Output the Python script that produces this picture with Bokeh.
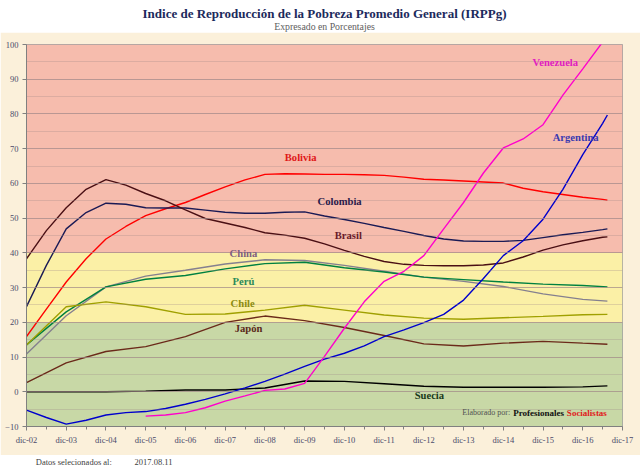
from bokeh.plotting import figure
from bokeh.layouts import column
from bokeh.models import FixedTicker, Label, Range1d
from bokeh.embed import file_html
from bokeh.resources import INLINE

# ---------------- data ----------------
tick_labels = ["dic-02", "dic-03", "dic-04", "dic-05", "dic-06", "dic-07", "dic-08", "dic-09",
               "dic-10", "dic-11", "dic-12", "dic-13", "dic-14", "dic-15", "dic-16", "dic-17"]

# yearly readings (years after dic-02; last reading = ago-17)
x_years = [0, 1, 2, 3, 4, 5, 6, 7, 8, 9, 10, 11, 12, 13, 14, 14.62]
china = [10.9, 21.9, 30.2, 33.3, 35.0, 36.8, 38.0, 37.8, 36.4, 34.7, 33.0, 31.8, 30.3, 28.2, 26.6, 26.1]
peru = [13.5, 23.0, 30.2, 32.4, 33.5, 35.4, 36.9, 37.3, 35.7, 34.5, 33.0, 32.3, 31.6, 31.0, 30.6, 30.2]
chile = [13.5, 24.5, 25.9, 24.5, 22.3, 22.4, 23.5, 24.9, 23.5, 22.1, 21.2, 20.9, 21.3, 21.7, 22.2, 22.3]
japon = [2.6, 8.3, 11.6, 13.0, 15.9, 20.0, 21.8, 20.5, 18.5, 16.2, 13.8, 13.2, 14.0, 14.5, 14.0, 13.7]
suecia = [0.0, 0.0, 0.0, 0.2, 0.5, 0.5, 1.1, 3.1, 3.0, 2.3, 1.6, 1.3, 1.3, 1.3, 1.4, 1.7]

# half-yearly readings
x_half = [0, 0.5, 1, 1.5, 2, 2.5, 3, 3.5, 4, 4.5, 5, 5.5, 6, 6.5, 7, 7.5, 8, 8.5, 9, 9.5,
          10, 10.5, 11, 11.5, 12, 12.5, 13, 13.5, 14, 14.5, 14.62]
bolivia = [15.9, 23.8, 31.6, 38.3, 44.0, 47.6, 50.7, 52.7, 54.5, 56.8, 59.0, 61.0, 62.6, 62.8, 62.7, 62.6,
           62.6, 62.5, 62.3, 61.8, 61.2, 61.0, 60.7, 60.4, 60.1, 58.6, 57.6, 56.8, 56.0, 55.4, 55.2]
colombia = [24.5, 36.4, 46.9, 51.6, 54.3, 54.0, 53.0, 52.9, 52.9, 52.3, 51.7, 51.4, 51.4, 51.7, 51.8, 50.6,
            49.6, 48.5, 47.3, 46.2, 45.0, 44.0, 43.4, 43.3, 43.3, 43.6, 44.4, 45.2, 45.9, 46.7, 46.9]
brasil = [38.3, 46.4, 53.0, 58.3, 61.1, 59.5, 57.1, 55.0, 52.4, 49.9, 48.6, 47.3, 45.8, 45.1, 44.2, 42.6,
          40.7, 39.0, 37.5, 36.7, 36.4, 36.3, 36.3, 36.5, 37.1, 38.8, 40.8, 42.3, 43.5, 44.5, 44.6]
argentina = [-5.3, -7.4, -9.3, -8.2, -6.7, -6.0, -5.7, -4.8, -3.6, -2.2, -0.6, 1.1, 3.0, 5.1, 7.3, 9.4,
             11.1, 13.2, 15.9, 17.8, 19.9, 22.3, 26.4, 32.6, 39.2, 43.5, 49.7, 58.3, 68.3, 77.3, 79.7]
venezuela_x = x_half[6:]
venezuela = [-7.0, -6.7, -6.0, -4.6, -2.7, -1.2, 0.4, 0.8, 2.4, 10.2, 18.3, 25.9, 31.8, 34.7,
             39.2, 46.9, 54.5, 63.0, 70.2, 72.8, 76.9, 85.4, 93.0, 100.7, 102.0]

band_limits = [-10, 20, 40, 100]

# ---------------- styles ----------------
SERIF = "Liberation Serif"
BEIGE = "#FBF0DA"
W = 640
series = [
    # name, xs, ys, line colour, label colour, label position
    ("Bolivia", x_half, bolivia, "#FF0000", "#E01818", (6.9, 67.4)),
    ("Colombia", x_half, colombia, "#1A1A55", "#2A1A4A", (7.88, 54.9)),
    ("Brasil", x_half, brasil, "#4A0F14", "#6A1A2A", (8.1, 45.1)),
    ("China", x_years, china, "#85808F", "#806080", (5.46, 39.7)),
    ("Perú", x_years, peru, "#008040", "#2A8A5A", (5.46, 31.7)),
    ("Chile", x_years, chile, "#A0A000", "#8C8C10", (5.44, 25.4)),
    ("Japón", x_years, japon, "#6B2A1A", "#5A2A1A", (5.59, 18.3)),
    ("Suecia", x_years, suecia, "#000000", "#1A3A1A", (10.14, -1.1)),
    ("Argentina", x_half, argentina, "#0000CC", "#3A3AB0", (13.82, 73.1)),
    ("Venezuela", venezuela_x, venezuela, "#FF00CC", "#E020C0", (13.31, 94.9)),
]


def strip(height):
    f = figure(width=W, height=height, x_range=Range1d(0, W), y_range=Range1d(height, 0),
               x_axis_type=None, y_axis_type=None, output_backend="svg",
               toolbar_location=None, min_border=0)
    f.outline_line_color = None
    f.background_fill_color = "#FFFFFF"
    f.border_fill_color = "#FFFFFF"
    f.xgrid.visible = False
    f.ygrid.visible = False
    return f


# ---------------- header ----------------
head = strip(32)
head.add_layout(Label(x=320, y=13, text="Indice de Reproducción de la Pobreza Promedio General (IRPPg)",
                      text_color="#1C2A5C", text_font=SERIF, text_font_style="bold",
                      text_font_size="13px", text_align="center", text_baseline="middle"))
head.add_layout(Label(x=320, y=26, text="Expresado en Porcentajes", text_color="#606060",
                      text_font=SERIF, text_font_size="9.8px",
                      text_align="center", text_baseline="middle"))

# ---------------- main chart ----------------
p = figure(width=W, height=423, x_range=(0, 15), y_range=(-10, 100),
           output_backend="svg", toolbar_location=None,
           min_border_left=26, min_border_right=18, min_border_top=12, min_border_bottom=29)
p.border_fill_color = BEIGE
p.background_fill_color = "#F6BCAD"
p.outline_line_color = "#A0A0A0"

band_colors = ["#C8D8A6", "#FBF0A6", "#F6BCAD"]
p.quad(left=[0, 0, 0], right=[15, 15, 15], bottom=band_limits[:-1], top=band_limits[1:],
       fill_color=band_colors, line_color=None, level="underlay")

p.xgrid.visible = False
p.ygrid.level = "glyph"
p.ygrid.grid_line_color = "#A08888"
p.ygrid.grid_line_alpha = 0.7
p.ygrid.minor_grid_line_color = "#A08888"
p.ygrid.minor_grid_line_alpha = 0.3

p.xaxis.ticker = FixedTicker(ticks=list(range(16)), minor_ticks=[i + 0.5 for i in range(15)])
p.xaxis.major_label_overrides = {i: lab for i, lab in enumerate(tick_labels)}
p.yaxis.ticker = FixedTicker(ticks=list(range(-10, 101, 10)), minor_ticks=list(range(-5, 100, 10)))
p.yaxis.minor_tick_line_color = None
for ax in (p.xaxis[0], p.yaxis[0]):
    ax.axis_line_color = "#808080"
    ax.major_tick_line_color = "#808080"
    ax.major_tick_in = 0
    ax.major_tick_out = 4
    ax.major_label_text_font = SERIF
    ax.major_label_text_font_size = "8.5px"
    ax.major_label_text_color = "#4A4A6A"
    ax.major_label_standoff = 4
p.xaxis.minor_tick_line_color = "#808080"
p.xaxis.minor_tick_in = 0
p.xaxis.minor_tick_out = 3

for name, xs, ys, lc, tc, (lx, ly) in series:
    p.line(xs, ys, line_color=lc, line_width=1.4)
    p.add_layout(Label(x=lx, y=ly, text=name, text_color=tc, text_font=SERIF,
                       text_font_style="bold", text_font_size="10.6px",
                       text_align="center", text_baseline="middle"))

# credits
p.add_layout(Label(x=10.97, y=-6.0, text="Elaborado por:", text_color="#505050",
                   text_font=SERIF, text_font_size="8px", text_baseline="middle",
                   text_align="left"))
p.add_layout(Label(x=12.25, y=-6.0, text="Profesionales", text_color="#101010",
                   text_font=SERIF, text_font_style="bold", text_font_size="9px",
                   text_baseline="middle", text_align="left"))
p.add_layout(Label(x=13.6, y=-6.0, text="Socialistas", text_color="#E02020",
                   text_font=SERIF, text_font_style="bold", text_font_size="9px",
                   text_baseline="middle", text_align="left"))

# ---------------- footer ----------------
foot = strip(14)
foot.add_layout(Label(x=10, y=6, text="Datos selecionados al:", text_color="#404040",
                      text_font=SERIF, text_font_size="8.5px", text_baseline="middle"))
foot.add_layout(Label(x=116, y=6, text="2017.08.11", text_color="#404040",
                      text_font=SERIF, text_font_size="8.5px", text_baseline="middle"))

layout = column(head, p, foot, spacing=0)
open("out.html", "w").write(file_html(layout, INLINE))
